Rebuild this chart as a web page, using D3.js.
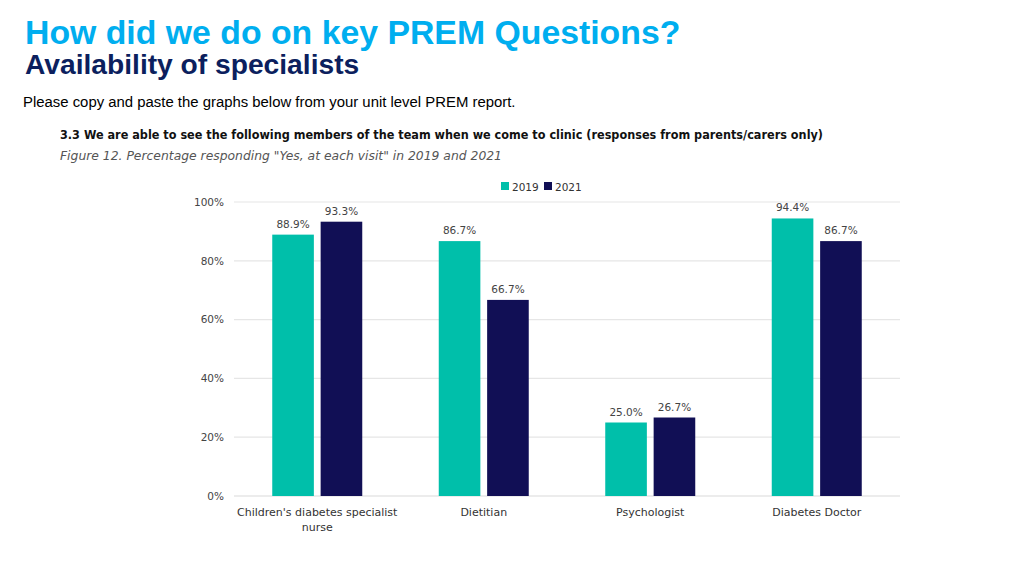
<!DOCTYPE html>
<html>
<head>
<meta charset="utf-8">
<script src="https://cdn.jsdelivr.net/npm/d3@7"></script>
<style>
  body { margin: 0; background: #fff; }
  svg { display: block; }
</style>
</head>
<body>
<svg id="svg1" width="1024" height="575"></svg>
<script>
var categories = ["Children's diabetes specialist nurse", "Dietitian", "Psychologist", "Diabetes Doctor"];
var years = ["2019", "2021"];
var values2019 = [88.9, 86.7, 25.0, 94.4];
var values2021 = [93.3, 66.7, 26.7, 86.7];
var yTicks = [0, 20, 40, 60, 80, 100];

var colours = { "2019": "#00BFAA", "2021": "#110F55" };
var chartFont = "'DejaVu Sans', 'Noto Sans', sans-serif";
var headFont = "'Liberation Sans', Arial, sans-serif";

var svg = d3.select("#svg1");

// page headings
var addText = function (x, y, text, size, weight, fill, family, style) {
    return svg.append("text")
        .attr("x", x).attr("y", y)
        .attr("font-size", size)
        .attr("font-weight", weight)
        .attr("font-style", style || "normal")
        .attr("font-family", family)
        .attr("fill", fill)
        .text(text);
};

addText(25, 44, "How did we do on key PREM Questions?", 33.8, "bold", "#00AEEF", headFont);
addText(25, 74, "Availability of specialists", 28.2, "bold", "#0C1F5E", headFont);
addText(23, 107, "Please copy and paste the graphs below from your unit level PREM report.", 14.9, "normal", "#000", headFont);
addText(60, 139, "3.3 We are able to see the following members of the team when we come to clinic (responses from parents/carers only)", 12.2, "bold", "#111", chartFont)
    .attr("textLength", 763).attr("lengthAdjust", "spacingAndGlyphs");
addText(60, 160, "Figure 12. Percentage responding \"Yes, at each visit\" in 2019 and 2021", 12.2, "normal", "#555", chartFont, "italic")
    .attr("textLength", 442).attr("lengthAdjust", "spacingAndGlyphs");

// plot area
var plotLeft = 234, plotRight = 900, plotTop = 202, plotBottom = 496;

var x0 = d3.scaleBand().domain(categories).range([plotLeft, plotRight]).paddingInner(0).paddingOuter(0);
var x1 = d3.scaleBand().domain(years).range([x0.bandwidth() / 2 - 45, x0.bandwidth() / 2 + 45]).paddingInner(0.14).paddingOuter(0);
var y = d3.scaleLinear().domain([0, 100]).range([plotBottom, plotTop]);

// gridlines
svg.append("g").selectAll("line").data(yTicks).join("line")
    .attr("x1", plotLeft).attr("x2", plotRight)
    .attr("y1", function (d) { return y(d); })
    .attr("y2", function (d) { return y(d); })
    .attr("stroke", function (d) { return d === 0 ? "#d9d9d9" : "#e6e6e6"; })
    .attr("stroke-width", 1.2);

// y axis labels
var yAxis = d3.axisLeft(y).tickValues(yTicks).tickSize(0).tickPadding(10)
    .tickFormat(function (d) { return d + "%"; });
var yg = svg.append("g").attr("transform", "translate(" + plotLeft + ",0)").call(yAxis);
yg.select(".domain").remove();
yg.selectAll("text").attr("font-size", 10.5).attr("font-family", chartFont).attr("fill", "#444");

// bars
var rows = categories.map(function (c, i) {
    return { cat: c, vals: [{ year: "2019", v: values2019[i] }, { year: "2021", v: values2021[i] }] };
});

var groups = svg.append("g").selectAll("g").data(rows).join("g")
    .attr("transform", function (d) { return "translate(" + x0(d.cat) + ",0)"; });

groups.selectAll("rect").data(function (d) { return d.vals; }).join("rect")
    .attr("x", function (d) { return x1(d.year); })
    .attr("width", x1.bandwidth())
    .attr("y", function (d) { return y(d.v); })
    .attr("height", function (d) { return y(0) - y(d.v); })
    .attr("fill", function (d) { return colours[d.year]; });

groups.selectAll("text").data(function (d) { return d.vals; }).join("text")
    .attr("x", function (d) { return x1(d.year) + x1.bandwidth() / 2; })
    .attr("y", function (d) { return y(d.v) - 7; })
    .attr("text-anchor", "middle")
    .attr("font-size", 10.5)
    .attr("font-family", chartFont)
    .attr("fill", "#444")
    .text(function (d) { return d.v.toFixed(1) + "%"; });

// x axis labels (wrapped)
var xAxis = d3.axisBottom(x0).tickSize(0).tickPadding(12);
var xg = svg.append("g").attr("transform", "translate(0," + plotBottom + ")").call(xAxis);
xg.select(".domain").remove();
xg.selectAll("text").attr("font-size", 11).attr("font-family", chartFont).attr("fill", "#333")
    .each(function (d) {
        if (d.length > 25) {
            var t = d3.select(this);
            t.text(null);
            t.append("tspan").attr("x", 0).attr("dy", "0.71em").text("Children's diabetes specialist");
            t.append("tspan").attr("x", 0).attr("dy", "1.4em").text("nurse");
        }
    });

// legend
var legend = svg.append("g").attr("transform", "translate(501,182)");
var li = legend.selectAll("g").data(years).join("g")
    .attr("transform", function (d, i) { return "translate(" + (i * 43) + ",0)"; });
li.append("rect").attr("width", 8).attr("height", 8).attr("fill", function (d) { return colours[d]; });
li.append("text").attr("x", 11).attr("y", 8.5)
    .attr("font-size", 10.5).attr("font-family", chartFont).attr("fill", "#333")
    .text(function (d) { return d; });
</script>
</body>
</html>
